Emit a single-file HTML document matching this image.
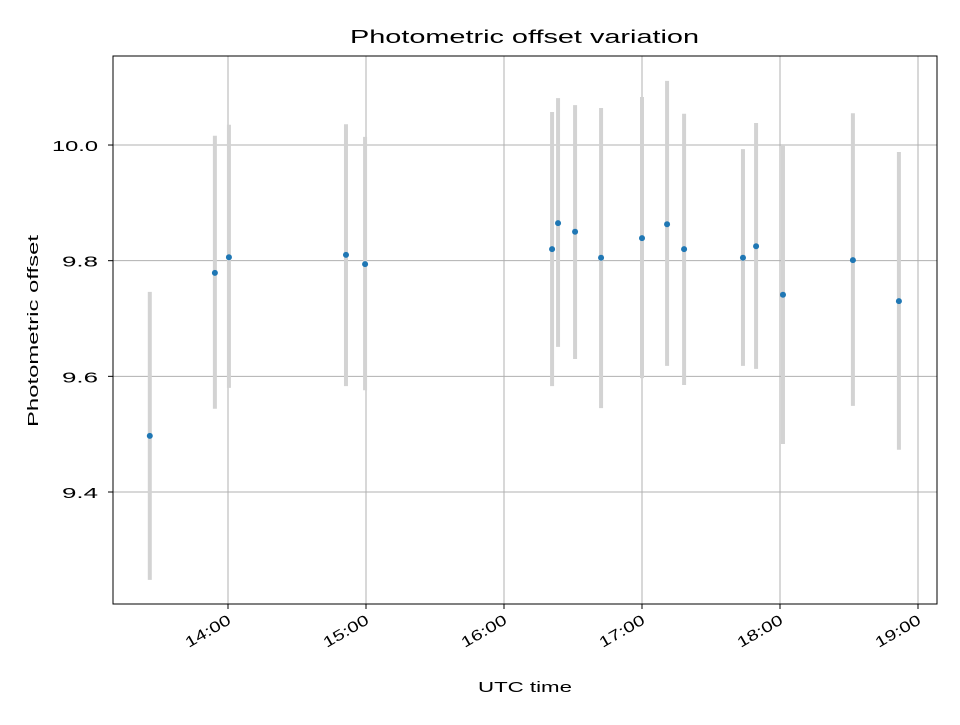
<!DOCTYPE html>
<html><head><meta charset="utf-8"><style>
body{margin:0;background:#fff;}
svg text{font-family:"Liberation Sans","DejaVu Sans",sans-serif;fill:#000;}
</style></head><body>
<svg id="chart" width="960" height="720" viewBox="0 0 960 720" xmlns="http://www.w3.org/2000/svg">
<rect width="960" height="720" fill="#fff"/>
<text x="350" y="43" font-size="18" textLength="349" lengthAdjust="spacingAndGlyphs">Photometric offset variation</text>
<text x="478" y="692" font-size="15" textLength="94" lengthAdjust="spacingAndGlyphs">UTC time</text>
<text transform="translate(38,427) rotate(-90)" font-size="15" textLength="192" lengthAdjust="spacingAndGlyphs">Photometric offset</text>
<g id="grid"></g>
<g id="errs"></g>
<g id="pts"></g>
<g id="ticks"></g>
<rect x="113" y="56" width="824" height="548" fill="none" stroke="#000" stroke-width="1"/>
</svg>
<script>
// minutes after 14:00 UTC
const times = [-34, -5.7, 0.4, 51.3, 59.6, 140.9, 143.5, 150.9, 162.2, 180, 190.9, 198.3, 223.9, 229.6, 241.3, 271.7, 291.7];
const values = [9.497, 9.779, 9.806, 9.810, 9.794, 9.820, 9.865, 9.850, 9.805, 9.839, 9.863, 9.820, 9.805, 9.825, 9.741, 9.801, 9.730];
const errUpper = [9.746, 10.016, 10.035, 10.036, 10.014, 10.057, 10.081, 10.069, 10.064, 10.083, 10.111, 10.054, 9.993, 10.038, 10.0, 10.055, 9.988];
const errLower = [9.248, 9.544, 9.580, 9.583, 9.576, 9.583, 9.651, 9.630, 9.545, 9.597, 9.618, 9.585, 9.618, 9.613, 9.483, 9.549, 9.473];
const xTickMinutes = [0, 60, 120, 180, 240, 300];
const xTickLabels = ["14:00","15:00","16:00","17:00","18:00","19:00"];
const yTicks = [9.4, 9.6, 9.8, 10.0];
const yTickLabels = ["9.4","9.6","9.8","10.0"];

const NS="http://www.w3.org/2000/svg";
const L=113,R=937,T=56,B=604;
const xScale = m => 228 + m*2.3;
const yScale = v => 492 - (v-9.4)*578.3;
function mk(tag, attrs, parent){const e=document.createElementNS(NS,tag);for(const k in attrs)e.setAttribute(k,attrs[k]);parent.appendChild(e);return e;}
const grid=document.getElementById('grid'), ticks=document.getElementById('ticks');
xTickMinutes.forEach((m,i)=>{
  const x=xScale(m);
  const g=mk('line',{x1:x,x2:x,y1:T,y2:B,stroke:'#b0b0b0','stroke-width':1},grid);
  
  
  const t=mk('line',{x1:x,x2:x,y1:B,y2:B+5,stroke:'#000'},ticks);
  
  
  const ax=x+4, ay=B+19;
  const tx=mk('text',{x:ax,y:ay,'font-size':15,'text-anchor':'end',textLength:50,lengthAdjust:'spacingAndGlyphs',transform:`rotate(-30 ${ax} ${ay})`},ticks);
  tx.textContent=xTickLabels[i];
  
  
});
yTicks.forEach((v,i)=>{
  const y=yScale(v);
  const g=mk('line',{x1:L,x2:R,y1:y,y2:y,stroke:'#b0b0b0','stroke-width':1},grid);
  
  
  const t=mk('line',{x1:L-5,x2:L,y1:y,y2:y,stroke:'#000'},ticks);
  
  
  const len = yTickLabels[i].length===4 ? 46 : 36;
  const tx=mk('text',{x:L-15-len,y:y+6,'font-size':15,textLength:len,lengthAdjust:'spacingAndGlyphs'},ticks);
  tx.textContent=yTickLabels[i];
  
  
});
const errs=document.getElementById('errs'), pts=document.getElementById('pts');
times.forEach((m,i)=>{
  const x=xScale(m);
  const e=mk('line',{x1:x,x2:x,y1:yScale(errUpper[i]),y2:yScale(errLower[i]),stroke:'#d3d3d3','stroke-width':4},errs);
  
  
  const c=mk('circle',{cx:x,cy:yScale(values[i]),r:3,fill:'#1f77b4'},pts);
  
  
});
</script>
</body></html>
